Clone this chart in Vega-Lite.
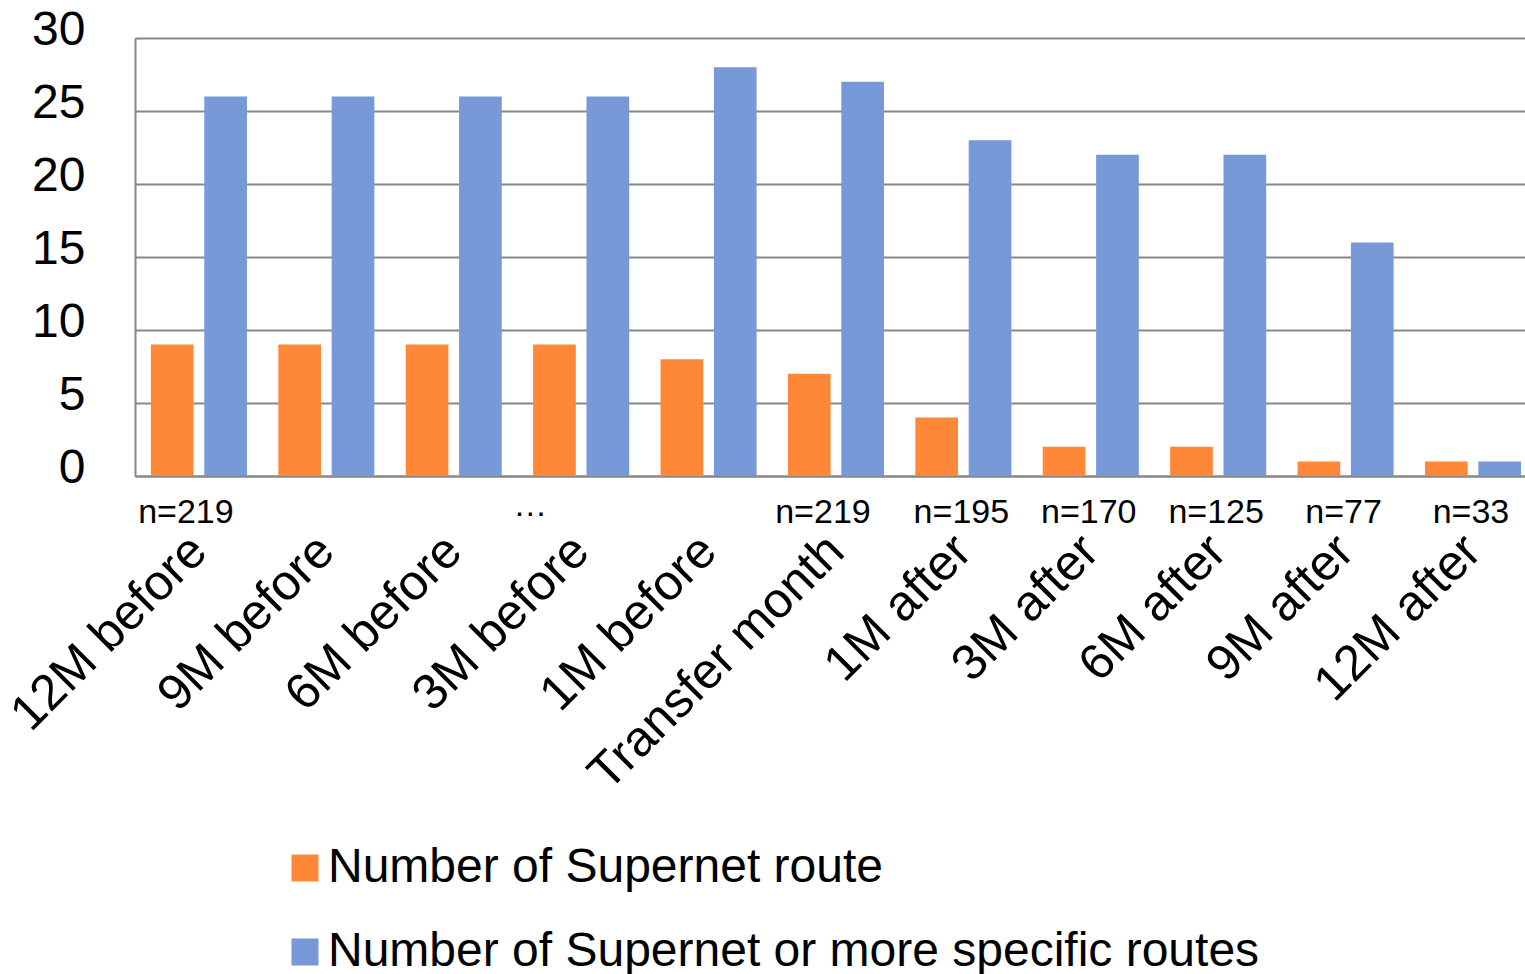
{
  "$schema": "https://vega.github.io/schema/vega-lite/v6.json",
  "width": 1390,
  "height": 438,
  "autosize": {"type": "none"},
  "padding": {"left": 135, "top": 38, "right": 0, "bottom": 498},
  "background": "white",
  "config": {
    "view": {"stroke": null},
    "font": "Liberation Sans",
    "axis": {"domainColor": "#878787", "domainWidth": 2, "gridColor": "#878787", "gridWidth": 2, "ticks": false, "labelColor": "black", "title": null}
  },
  "layer": [
    {
      "data": {"values": [
        {"period": "12M before", "series": "Number of Supernet route", "value": 9},
        {"period": "12M before", "series": "Number of Supernet or more specific routes", "value": 26},
        {"period": "9M before", "series": "Number of Supernet route", "value": 9},
        {"period": "9M before", "series": "Number of Supernet or more specific routes", "value": 26},
        {"period": "6M before", "series": "Number of Supernet route", "value": 9},
        {"period": "6M before", "series": "Number of Supernet or more specific routes", "value": 26},
        {"period": "3M before", "series": "Number of Supernet route", "value": 9},
        {"period": "3M before", "series": "Number of Supernet or more specific routes", "value": 26},
        {"period": "1M before", "series": "Number of Supernet route", "value": 8},
        {"period": "1M before", "series": "Number of Supernet or more specific routes", "value": 28},
        {"period": "Transfer month", "series": "Number of Supernet route", "value": 7},
        {"period": "Transfer month", "series": "Number of Supernet or more specific routes", "value": 27},
        {"period": "1M after", "series": "Number of Supernet route", "value": 4},
        {"period": "1M after", "series": "Number of Supernet or more specific routes", "value": 23},
        {"period": "3M after", "series": "Number of Supernet route", "value": 2},
        {"period": "3M after", "series": "Number of Supernet or more specific routes", "value": 22},
        {"period": "6M after", "series": "Number of Supernet route", "value": 2},
        {"period": "6M after", "series": "Number of Supernet or more specific routes", "value": 22},
        {"period": "9M after", "series": "Number of Supernet route", "value": 1},
        {"period": "9M after", "series": "Number of Supernet or more specific routes", "value": 16},
        {"period": "12M after", "series": "Number of Supernet route", "value": 1},
        {"period": "12M after", "series": "Number of Supernet or more specific routes", "value": 1}
      ]},
      "mark": {"type": "bar"},
      "encoding": {
        "x": {
          "field": "period", "type": "nominal", "sort": null,
          "scale": {"paddingInner": 0.246, "paddingOuter": 0.078, "align": 0.8},
          "axis": {"labelAngle": -45, "labelAlign": "right", "labelBaseline": "middle", "labelFontSize": 50, "labelPadding": 67, "grid": false, "labelOverlap": false, "labelLimit": 0}
        },
        "xOffset": {
          "field": "series", "type": "nominal",
          "sort": ["Number of Supernet route", "Number of Supernet or more specific routes"],
          "scale": {"paddingInner": 0.2, "paddingOuter": 0}
        },
        "y": {
          "field": "value", "type": "quantitative",
          "scale": {"domain": [0, 30], "nice": false},
          "axis": {"values": [0, 5, 10, 15, 20, 25, 30], "labelFontSize": 48, "labelPadding": 50, "labelOffset": -8, "grid": true}
        },
        "color": {
          "field": "series", "type": "nominal",
          "sort": ["Number of Supernet route", "Number of Supernet or more specific routes"],
          "scale": {"domain": ["Number of Supernet route", "Number of Supernet or more specific routes"], "range": ["#FF8838", "#7799D7"]},
          "legend": {"title": null, "orient": "none", "legendX": 146, "legendY": 806, "direction": "vertical", "symbolType": "square", "symbolSize": 729, "symbolStrokeWidth": 0, "labelFontSize": 48, "labelOffset": -1, "rowPadding": 36, "labelLimit": 0}
        }
      }
    },
    {
      "data": {"values": [
        {"period": "12M before", "n": "n=219"},
        {"period": "Transfer month", "n": "n=219"}
      ]},
      "mark": {"type": "text", "fontSize": 34, "dy": 37, "dx": -13, "baseline": "middle", "color": "black"},
      "encoding": {
        "x": {"field": "period", "type": "nominal", "sort": null},
        "y": {"datum": 0},
        "text": {"field": "n"}
      }
    },
    {
      "data": {"values": [
        {"period": "1M after", "n": "n=195"},
        {"period": "3M after", "n": "n=170"},
        {"period": "6M after", "n": "n=125"},
        {"period": "9M after", "n": "n=77"},
        {"period": "12M after", "n": "n=33"}
      ]},
      "mark": {"type": "text", "fontSize": 34, "dy": 37, "dx": -2, "baseline": "middle", "color": "black"},
      "encoding": {
        "x": {"field": "period", "type": "nominal", "sort": null},
        "y": {"datum": 0},
        "text": {"field": "n"}
      }
    },
    {
      "data": {"values": [{"period": "3M before", "n": "…"}]},
      "mark": {"type": "text", "fontSize": 34, "dy": 30, "dx": -51, "baseline": "middle", "color": "black"},
      "encoding": {
        "x": {"field": "period", "type": "nominal", "sort": null},
        "y": {"datum": 0},
        "text": {"field": "n"}
      }
    }
  ]
}
